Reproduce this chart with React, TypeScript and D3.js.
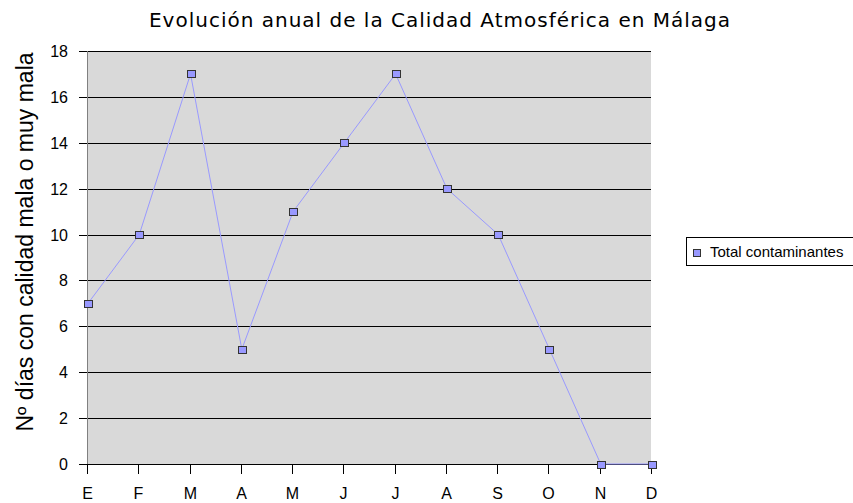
import { useEffect, useRef } from 'react';
import * as d3 from 'd3';

const months = ['E', 'F', 'M', 'A', 'M', 'J', 'J', 'A', 'S', 'O', 'N', 'D'];
const totalContaminantes = [7, 10, 17, 5, 11, 14, 17, 12, 10, 5, 0, 0];
const yTicks = [0, 2, 4, 6, 8, 10, 12, 14, 16, 18];
const seriesName = 'Total contaminantes';
const title = 'Evolución anual de la Calidad Atmosférica en Málaga';
const yTitle = 'Nº días con calidad mala o muy mala';

const W = 853;
const H = 503;
const plot = { left: 88, right: 651, top: 51, bottom: 464 };
const sans = 'Liberation Sans, Arial, sans-serif';

function App() {
  const svgRef = useRef<SVGSVGElement>(null);

  useEffect(() => {
    const svg = d3.select(svgRef.current);
    svg.selectAll('*').remove();

    const x = d3
      .scalePoint<number>()
      .domain(months.map((_, i) => i))
      .range([plot.left, plot.right + 1]);
    const y = d3.scaleLinear().domain([0, 18]).range([plot.bottom, plot.top]);

    svg.append('rect').attr('width', W).attr('height', H).attr('fill', '#ffffff');

    // plot area
    svg
      .append('rect')
      .attr('x', plot.left)
      .attr('y', plot.top)
      .attr('width', plot.right - plot.left)
      .attr('height', plot.bottom - plot.top)
      .attr('fill', '#d9d9d9');

    // gridlines + y ticks
    const yAxis = svg.append('g').attr('font-family', sans);
    yTicks.forEach(t => {
      const yy = Math.round(y(t)) + 0.5;
      yAxis
        .append('line')
        .attr('x1', plot.left - 9)
        .attr('x2', plot.right)
        .attr('y1', yy)
        .attr('y2', yy)
        .attr('stroke', '#000')
        .attr('stroke-width', 1);
      yAxis
        .append('text')
        .attr('x', 68)
        .attr('y', yy)
        .attr('dy', '0.36em')
        .attr('text-anchor', 'end')
        .attr('font-size', 16)
        .text(t);
    });

    // left axis line
    svg
      .append('line')
      .attr('x1', plot.left - 0.5)
      .attr('x2', plot.left - 0.5)
      .attr('y1', plot.top)
      .attr('y2', plot.bottom)
      .attr('stroke', '#808080');

    // x ticks and labels
    const xAxis = svg.append('g').attr('font-family', sans);
    months.forEach((m, i) => {
      const xx = Math.round(x(i)!) - 0.5;
      xAxis
        .append('line')
        .attr('x1', xx)
        .attr('x2', xx)
        .attr('y1', plot.bottom)
        .attr('y2', plot.bottom + 10)
        .attr('stroke', '#000');
      xAxis
        .append('text')
        .attr('x', xx)
        .attr('y', 499)
        .attr('text-anchor', 'middle')
        .attr('font-size', 16)
        .text(m);
    });

    // series
    const line = d3
      .line<number>()
      .x((_, i) => x(i)!)
      .y(d => y(d));
    svg
      .append('path')
      .datum(totalContaminantes)
      .attr('d', line)
      .attr('fill', 'none')
      .attr('stroke', '#9999ff')
      .attr('stroke-width', 1);

    const mw = 8;
    const mh = 7;
    svg
      .append('g')
      .selectAll('rect')
      .data(totalContaminantes)
      .join('rect')
      .attr('x', (_, i) => Math.round(x(i)! - mw / 2) + 0.5)
      .attr('y', d => Math.round(y(d) - mh / 2) + 0.5)
      .attr('width', mw)
      .attr('height', mh)
      .attr('fill', '#9999ff')
      .attr('stroke', '#333333');

    // title
    svg
      .append('text')
      .attr('x', 440)
      .attr('y', 27)
      .attr('text-anchor', 'middle')
      .attr('font-family', 'DejaVu Sans, Verdana, sans-serif')
      .attr('font-size', 20)
      .attr('letter-spacing', 1)
      .text(title);

    // y title
    svg
      .append('text')
      .attr('transform', `translate(33, 242) rotate(-90)`)
      .attr('text-anchor', 'middle')
      .attr('font-family', sans)
      .attr('font-size', 23)
      .text(yTitle);

    // legend
    const lg = svg.append('g').attr('transform', 'translate(686, 237)');
    lg.append('rect')
      .attr('x', 0.5)
      .attr('y', 0.5)
      .attr('width', 200)
      .attr('height', 28)
      .attr('fill', '#ffffff')
      .attr('stroke', '#000');
    lg.append('rect')
      .attr('x', 7.5)
      .attr('y', 12.5)
      .attr('width', 7)
      .attr('height', 7)
      .attr('fill', '#9999ff')
      .attr('stroke', '#333333');
    lg.append('text')
      .attr('x', 24)
      .attr('y', 20)
      .attr('font-family', sans)
      .attr('font-size', 15)
      .text(seriesName);
  }, []);

  return (
    <svg
      ref={svgRef}
      width={W}
      height={H}
      style={{ position: 'absolute', left: 0, top: 0, display: 'block' }}
    />
  );
}

export default App;
